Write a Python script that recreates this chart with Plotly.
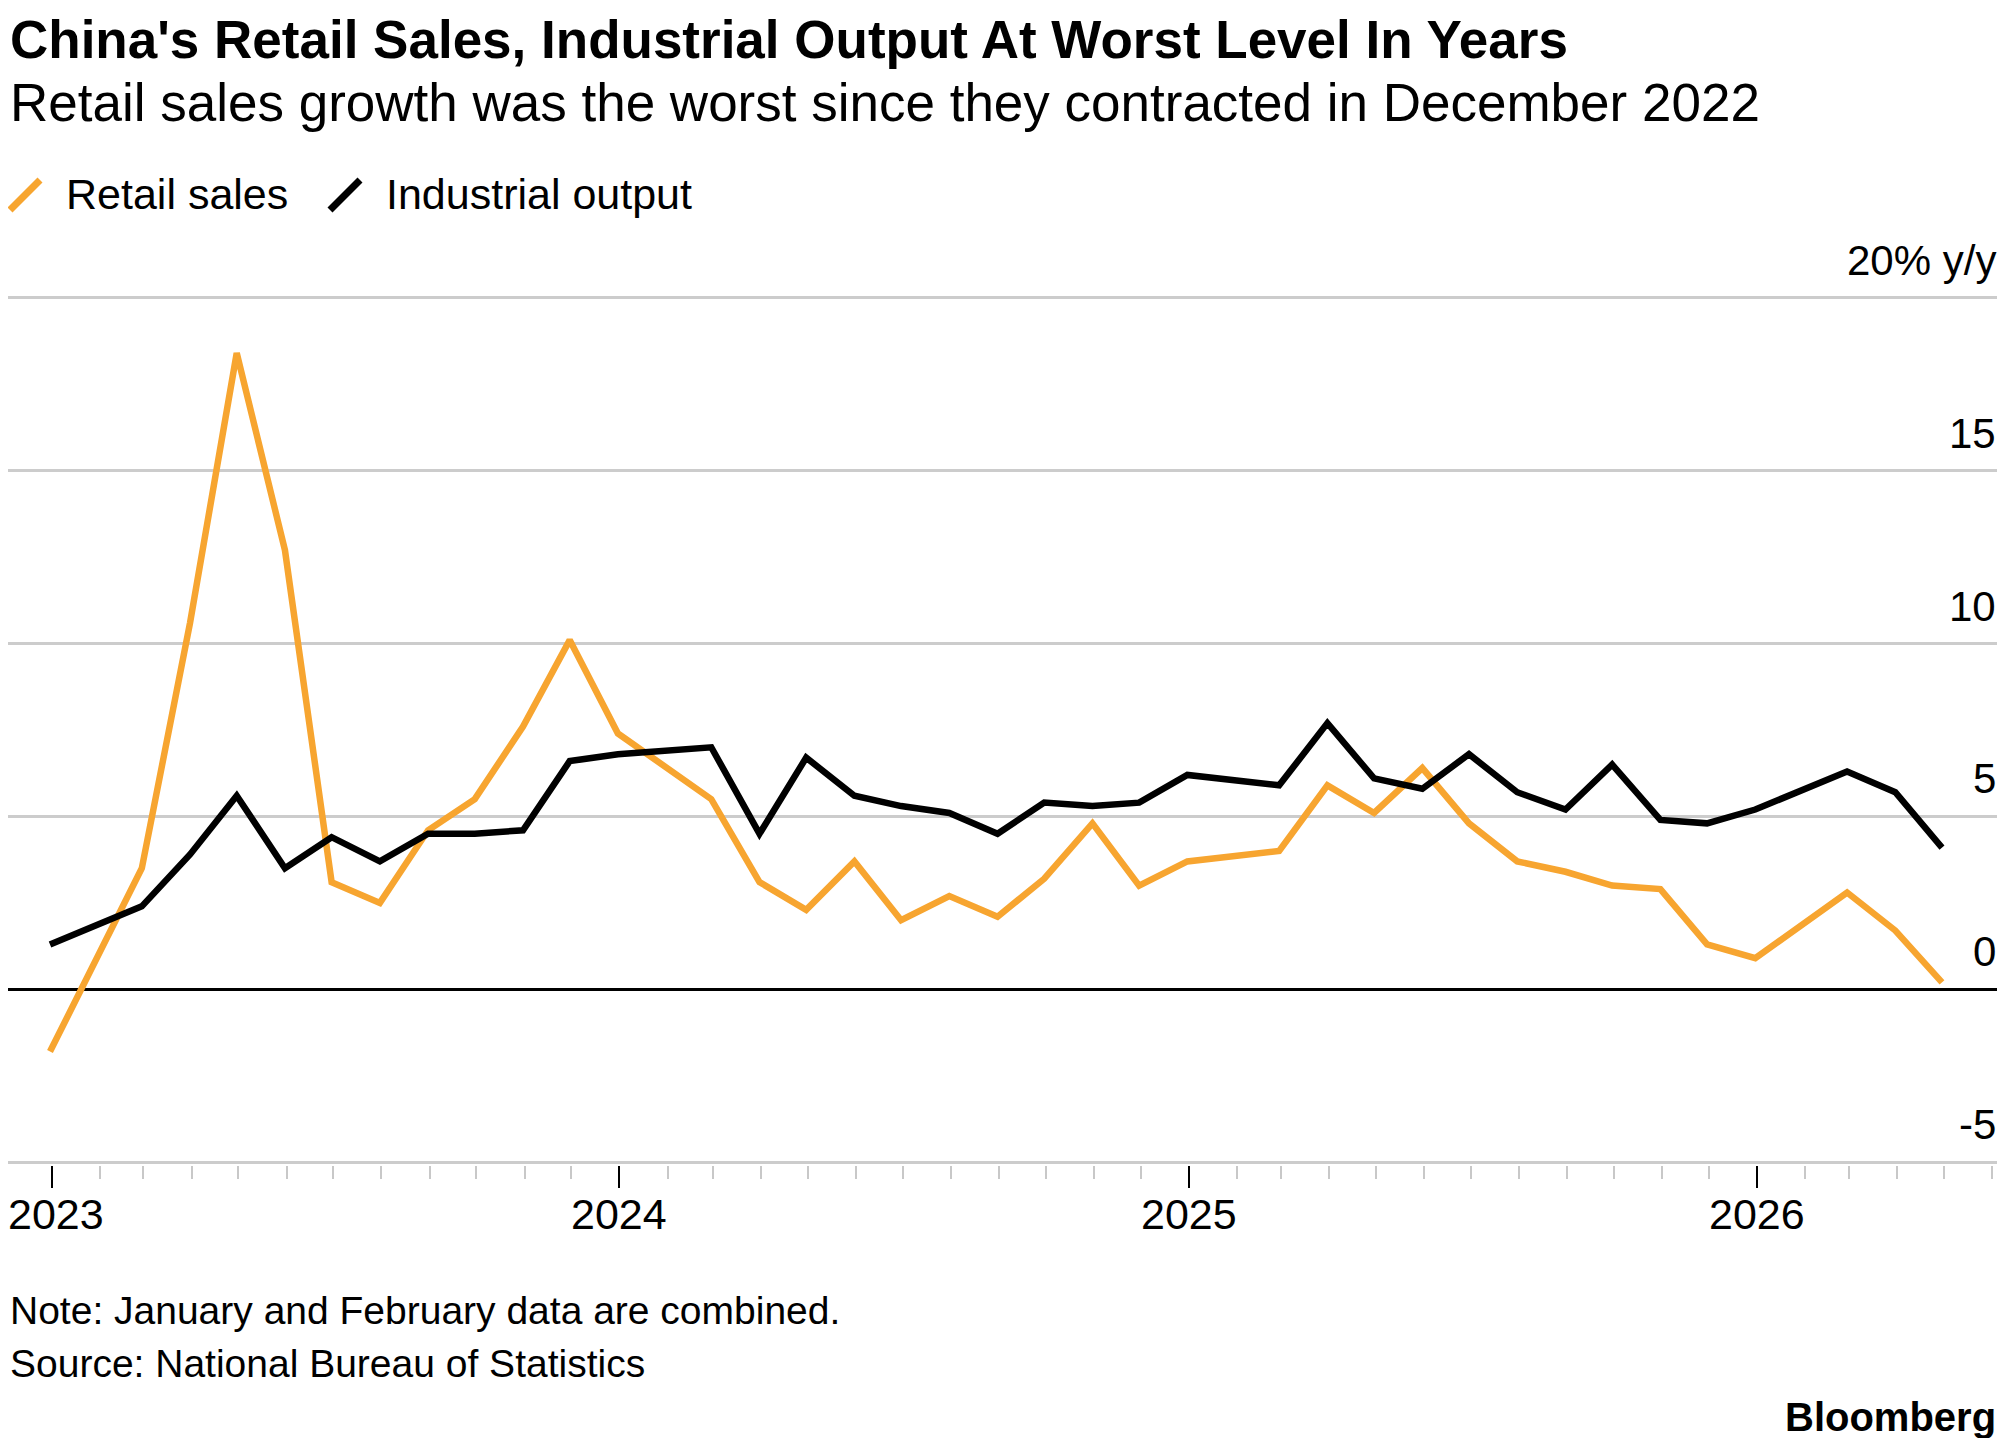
import plotly.graph_objects as go

# month-end dates (Jan and Feb are combined, so January is skipped)
dates = [
    "2022-12-31", "2023-02-28", "2023-03-31", "2023-04-30", "2023-05-31", "2023-06-30",
    "2023-07-31", "2023-08-31", "2023-09-30", "2023-10-31", "2023-11-30", "2023-12-31",
    "2024-02-29", "2024-03-31", "2024-04-30", "2024-05-31", "2024-06-30", "2024-07-31",
    "2024-08-31", "2024-09-30", "2024-10-31", "2024-11-30", "2024-12-31",
    "2025-02-28", "2025-03-31", "2025-04-30", "2025-05-31", "2025-06-30", "2025-07-31",
    "2025-08-31", "2025-09-30", "2025-10-31", "2025-11-30", "2025-12-31",
    "2026-02-28", "2026-03-31", "2026-04-30",
]
retail_sales = [
    -1.8, 3.5, 10.6, 18.4, 12.7, 3.1, 2.5, 4.6, 5.5, 7.6, 10.1, 7.4,
    5.5, 3.1, 2.3, 3.7, 2.0, 2.7, 2.1, 3.2, 4.8, 3.0, 3.7,
    4.0, 5.9, 5.1, 6.4, 4.8, 3.7, 3.4, 3.0, 2.9, 1.3, 0.9,
    2.8, 1.7, 0.2,
]
industrial_output = [
    1.3, 2.4, 3.9, 5.6, 3.5, 4.4, 3.7, 4.5, 4.5, 4.6, 6.6, 6.8,
    7.0, 4.5, 6.7, 5.6, 5.3, 5.1, 4.5, 5.4, 5.3, 5.4, 6.2,
    5.9, 7.7, 6.1, 5.8, 6.8, 5.7, 5.2, 6.5, 4.9, 4.8, 5.2,
    6.3, 5.7, 4.1,
]
y_ticks = [-5, 0, 5, 10, 15, 20]
y_labels = ["-5", "0", "5", "10", "15", "20% y/y"]
year_ticks = ["2023-01-01", "2024-01-01", "2025-01-01", "2026-01-01"]
year_labels = ["2023", "2024", "2025", "2026"]

ORANGE = "#f7a530"
FONT = "Liberation Sans"
W, H = 1990, 1430
TOP, BOTTOM = 287, 1157


def ypaper(px):
    # page pixel row -> paper coordinate
    return (H - px - (H - BOTTOM)) / (BOTTOM - TOP)


fig = go.Figure()
fig.add_trace(go.Scatter(x=dates, y=retail_sales, mode="lines", name="Retail sales",
                         line=dict(color=ORANGE, width=6.5)))
fig.add_trace(go.Scatter(x=dates, y=industrial_output, mode="lines", name="Industrial output",
                         line=dict(color="black", width=6.5)))

fig.update_layout(
    width=W, height=H,
    margin=dict(l=0, r=0, t=TOP, b=H - BOTTOM, pad=0),
    paper_bgcolor="white", plot_bgcolor="white",
    showlegend=False,
    font=dict(family=FONT, color="black"),
    xaxis=dict(
        range=["2022-12-04", "2026-06-05"],
        tickvals=year_ticks, showticklabels=False,
        ticks="outside", ticklen=22, tickwidth=2, tickcolor="black",
        showgrid=False, zeroline=False,
        minor=dict(dtick="M1", tick0="2023-01-01", ticks="outside", ticklen=13,
                   tickwidth=2, tickcolor="#c8c8c8", showgrid=False),
        showline=False,
    ),
    yaxis=dict(
        range=[-5.08, 20.08], tickvals=y_ticks, showticklabels=False,
        showgrid=True, gridcolor="#cccccc", gridwidth=2.5,
        zeroline=True, zerolinecolor="black", zerolinewidth=2.5,
    ),
)

for i, (d, lab) in enumerate(zip(year_ticks, year_labels)):
    fig.add_annotation(x=d, y=ypaper(1206), xref="x", yref="paper", text=lab, showarrow=False,
                       xanchor="center", yanchor="middle", xshift=4 if i == 0 else 0,
                       font=dict(size=43, family=FONT))

for v, lab in zip(y_ticks, y_labels):
    fig.add_annotation(x=1, y=v, xref="paper", yref="y", text=lab, showarrow=False,
                       xanchor="right", yanchor="bottom", yshift=12,
                       font=dict(size=42, family=FONT))

texts = [
    ("<b>China's Retail Sales, Industrial Output At Worst Level In Years</b>", 32, 53),
    ("Retail sales growth was the worst since they contracted in December 2022", 94, 53),
    ("Note: January and February data are combined.", 1302, 39),
    ("Source: National Bureau of Statistics", 1355, 39),
]
for t, ypx, size in texts:
    fig.add_annotation(x=0, y=ypaper(ypx), xref="paper", yref="paper",
                       text=t, showarrow=False, xanchor="left", yanchor="middle",
                       font=dict(size=size, family=FONT))

fig.add_annotation(x=1, y=ypaper(1409), xref="paper", yref="paper",
                   text="<b>Bloomberg</b>", showarrow=False, xanchor="right", yanchor="middle",
                   font=dict(size=40, family=FONT))

# legend drawn as slanted strokes + text
for x0, col, lab in [(2, ORANGE, "Retail sales"), (322, "black", "Industrial output")]:
    fig.add_shape(type="line", xref="paper", yref="paper",
                  x0=x0 / W, x1=(x0 + 30) / W, y0=ypaper(202), y1=ypaper(172),
                  line=dict(color=col, width=7))
    fig.add_annotation(x=(x0 + 54) / W, y=ypaper(186), xref="paper", yref="paper", text=lab,
                       showarrow=False, xanchor="left", yanchor="middle",
                       font=dict(size=43, family=FONT))

fig.write_html("out.html")
